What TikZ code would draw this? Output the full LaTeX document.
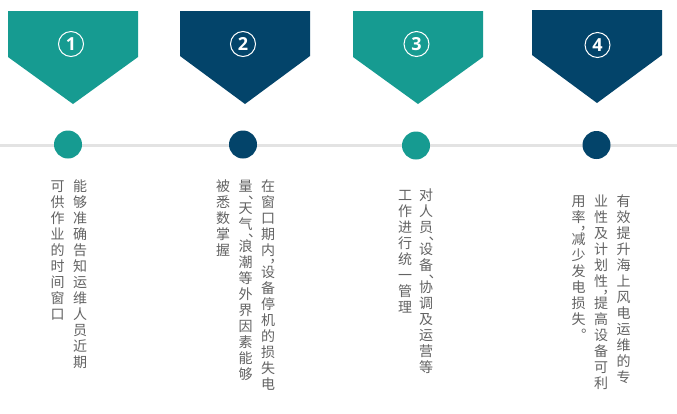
\documentclass[tikz,border=0pt]{standalone}
\usepackage{fontspec}
\newfontfamily\cjk{Noto Sans CJK SC}
\newfontfamily\numfont{Open Sans}
\definecolor{tealA}{HTML}{169B91}
\definecolor{navyA}{HTML}{03446A}
\definecolor{txtgray}{HTML}{636363}
\definecolor{linegray}{HTML}{E3E3E3}
\makeatletter
\def\vt@comma{，}\def\vt@dun{、}\def\vt@stop{。}
\newcommand\vtext[1]{\vbox{\offinterlineskip\@tfor\vt@c:=#1\do{\vt@one}}}
\def\vt@one{%
  \ifx\vt@c\vt@comma \vt@punct{︐}\else
  \ifx\vt@c\vt@dun \vt@punct{︑}\else
  \ifx\vt@c\vt@stop \vt@punct{︒}\else
  \hbox to 16bp{\hss\rule[-3.5bp]{0pt}{16bp}\smash{\vt@c}\hss}\fi\fi\fi}
\def\vt@punct#1{\hbox to 16bp{\hss\rule[-6bp]{0pt}{6bp}\hspace*{2bp}\smash{\raisebox{-12.3bp}{#1}}\hss}}
\makeatother
\tikzset{
  numc/.style={circle, draw=white, line width=1bp, minimum size=25bp, inner sep=0pt,
     text=white, font=\numfont\bfseries\fontsize{18bp}{18bp}\selectfont},
  dot/.style={circle, minimum size=28bp, inner sep=0pt, draw=none},
  coltext/.style={anchor=north, inner sep=0pt, text=txtgray,
     font=\cjk\fontsize{14bp}{16bp}\selectfont},
}
\begin{document}
\begin{tikzpicture}[x=1bp,y=-1bp]
\useasboundingbox[fill=white] (0,0) rectangle (677,413);
% banners
\fill[tealA] (8,11) -- (138,11) -- (138,57) -- (73,104) -- (8,57) -- cycle;
\fill[navyA] (180,11) -- (310,11) -- (310,56) -- (245,104) -- (180,56) -- cycle;
\fill[tealA] (353,11) -- (483,11) -- (483,57) -- (418,104) -- (353,57) -- cycle;
\fill[navyA] (532,10) -- (662,10) -- (662,55) -- (597,103) -- (532,55) -- cycle;
\node[numc] (n1) at (71,44) {1};
\node[numc] (n2) at (243,44) {2};
\node[numc] (n3) at (416.5,44) {3};
\node[numc] (n4) at (597.5,45) {4};
% timeline
\coordinate (L) at (0,145.5);
\coordinate (R) at (677,145.5);
\draw[linegray, line width=3bp] (L) -- (R);
\node[dot, fill=tealA] (d1) at (68,144.5) {};
\node[dot, fill=navyA] (d2) at (243,144.5) {};
\node[dot, fill=tealA] (d3) at (416,145.5) {};
\node[dot, fill=navyA] (d4) at (596.5,145) {};
% texts
\node[coltext] (t1a) at (80,179) {\vtext{能够准确告知运维人员近期}};
\node[coltext] (t1b) at (57.5,179) {\vtext{可供作业的时间窗口}};
\node[coltext] (t2a) at (268,179) {\vtext{在窗口期内，设备停机的损失电}};
\node[coltext] (t2b) at (245.5,179) {\vtext{量、天气、浪潮等外界因素能够}};
\node[coltext] (t2c) at (223,179) {\vtext{被悉数掌握}};
\node[coltext] (t3a) at (426,188) {\vtext{对人员、设备、协调及运营等}};
\node[coltext] (t3b) at (405,188) {\vtext{工作进行统一管理}};
\node[coltext] (t4a) at (623.5,194) {\vtext{有效提升海上风电运维的专}};
\node[coltext] (t4b) at (601,194) {\vtext{业性及计划性，提高设备可利}};
\node[coltext] (t4c) at (578.5,194) {\vtext{用率，减少发电损失。}};
\end{tikzpicture}
\end{document}
